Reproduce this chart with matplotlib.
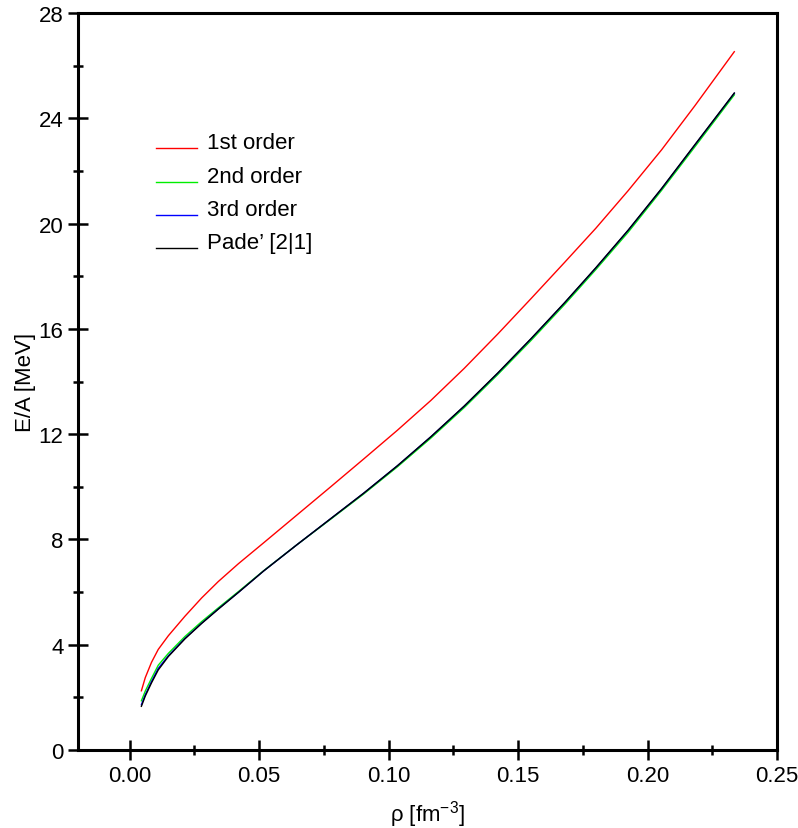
import matplotlib
matplotlib.use("Agg")
import matplotlib.pyplot as plt
from matplotlib.ticker import MultipleLocator
from matplotlib.legend_handler import HandlerLine2D

plt.rcParams['font.family'] = ['Liberation Sans', 'DejaVu Sans']
plt.rcParams['mathtext.default'] = 'regular'

# density points (fm^-3)
rho = [0.0045, 0.0060, 0.0084, 0.0110, 0.0149, 0.0213, 0.0278, 0.0342, 0.0420,
       0.0517, 0.0646, 0.0775, 0.0904, 0.1034, 0.1163, 0.1292, 0.1421, 0.1550,
       0.1680, 0.1800, 0.1925, 0.2054, 0.2183, 0.2335]

# energy per particle (MeV)
e_first = [2.25, 2.75, 3.33, 3.82, 4.34, 5.08, 5.78, 6.40, 7.08, 7.87, 8.93,
           9.99, 11.06, 12.15, 13.28, 14.50, 15.80, 17.15, 18.53, 19.82, 21.25,
           22.80, 24.48, 26.53]
e_second = [1.87, 2.24, 2.72, 3.22, 3.67, 4.31, 4.88, 5.40, 6.02, 6.81, 7.80,
            8.76, 9.73, 10.76, 11.85, 13.01, 14.26, 15.56, 16.93, 18.25, 19.67,
            21.26, 22.92, 24.89]
e_third = [1.72, 2.10, 2.60, 3.10, 3.58, 4.24, 4.82, 5.36, 5.99, 6.80, 7.80,
           8.78, 9.76, 10.80, 11.90, 13.06, 14.31, 15.62, 16.99, 18.31, 19.74,
           21.32, 22.99, 24.95]
e_pade = [1.66, 2.05, 2.55, 3.04, 3.55, 4.22, 4.81, 5.35, 5.99, 6.80, 7.80,
          8.78, 9.76, 10.80, 11.90, 13.07, 14.32, 15.63, 17.00, 18.32, 19.75,
          21.33, 23.00, 24.96]

labels = ['1st order', '2nd order', '3rd order', 'Pade\u2019 [2|1]']
colors = ['#ff0000', '#00ee00', '#0000ff', '#000000']


# legend line sits at the text baseline, not at its middle
class LowLine(HandlerLine2D):
    def create_artists(self, legend, orig_handle, xdescent, ydescent,
                       width, height, fontsize, trans):
        return super().create_artists(legend, orig_handle, xdescent,
                                      ydescent + height, width, height,
                                      fontsize, trans)


fig = plt.figure(figsize=(7.98, 8.29), dpi=100)
ax = fig.add_axes([0.0977, 0.0941, 0.876, 0.889])

lines = []
for ys, lab, c in zip([e_first, e_second, e_third, e_pade], labels, colors):
    ln, = ax.plot(rho, ys, color=c, lw=1.0, label=lab)
    lines.append(ln)

ax.set_xlim(-0.02, 0.25)
ax.set_ylim(0, 28)
ax.xaxis.set_major_locator(MultipleLocator(0.05))
ax.xaxis.set_minor_locator(MultipleLocator(0.025))
ax.yaxis.set_major_locator(MultipleLocator(4))
ax.yaxis.set_minor_locator(MultipleLocator(2))
ax.xaxis.set_major_formatter(plt.FormatStrFormatter('%.2f'))

for s in ax.spines.values():
    s.set_linewidth(2.2)
ax.tick_params(which='major', direction='inout', length=15, width=1.8,
               labelsize=16, pad=3)
ax.tick_params(which='minor', direction='inout', length=7, width=1.8)
ax.tick_params(top=False, right=False, which='both')

ax.set_xlabel(r'$\rho$ [fm$^{-3}$]', fontsize=16, labelpad=9)
ax.set_ylabel('E/A [MeV]', fontsize=16, labelpad=2)

ax.legend(handles=lines, loc='upper left', bbox_to_anchor=(0.099, 0.85),
          frameon=False, fontsize=16, handlelength=1.85, handletextpad=0.45,
          labelspacing=0.55, borderaxespad=0,
          handler_map={ln: LowLine() for ln in lines})

fig.savefig('out.png', dpi=100)
